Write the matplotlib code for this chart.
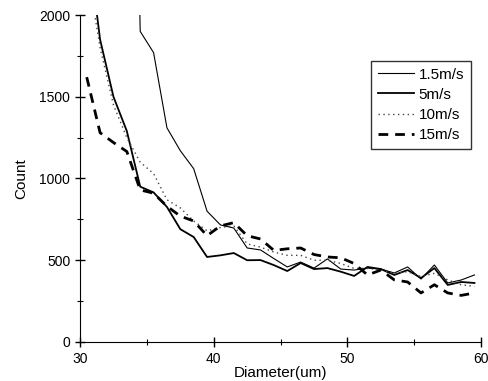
import numpy as np
import matplotlib
matplotlib.use("Agg")
import matplotlib.pyplot as plt
from matplotlib.ticker import MultipleLocator

plt.rcParams['font.family'] = ['Liberation Sans', 'DejaVu Sans']

# diameter bin centres (um)
diam = np.arange(30.5, 60.0, 1.0)

# counts
v15 = [4500, 4000, 3500, 6000, 1900, 1770, 1310, 1170, 1060, 800,
       716, 697, 575, 563, 510, 459, 489, 452, 508, 446,
       440, 452, 446, 422, 459, 385, 471, 361, 379, 410]
v5 = [2500, 1850, 1500, 1290, 950, 915, 826, 690, 642, 520,
      530, 544, 500, 501, 470, 434, 483, 446, 452, 430,
      404, 459, 446, 410, 440, 391, 452, 349, 367, 361]
v10 = [2300, 1800, 1450, 1250, 1100, 1030, 870, 820, 740, 680,
       700, 710, 600, 580, 550, 530, 530, 500, 500, 480,
       450, 450, 440, 420, 430, 400, 420, 380, 350, 340]
v15b = [1620, 1280, 1220, 1165, 930, 910, 830, 770, 740, 650,
        710, 730, 650, 630, 560, 570, 575, 535, 520, 515,
        480, 410, 440, 380, 367, 300, 350, 300, 285, 300]

labels = ["1.5m/s", "5m/s", "10m/s", "15m/s"]

fig = plt.figure(figsize=(4.88, 3.81), dpi=100)
ax = fig.add_axes([0.164, 0.1024, 0.822, 0.8582])

ax.plot(diam, v15, color="black", lw=0.8, label=labels[0])
ax.plot(diam, v5, color="black", lw=1.3, label=labels[1])
ax.plot(diam, v10, color="#444444", lw=1.0, ls=(0, (1, 2.5)), label=labels[2])
ax.plot(diam, v15b, color="black", lw=2.0, ls=(0, (3.5, 2.5)), label=labels[3])

ax.set_xlim(30, 60)
ax.set_ylim(0, 2000)
ax.xaxis.set_major_locator(MultipleLocator(10))
ax.xaxis.set_minor_locator(MultipleLocator(5))
ax.yaxis.set_major_locator(MultipleLocator(500))
ax.yaxis.set_minor_locator(MultipleLocator(250))
ax.spines['top'].set_visible(False)
ax.spines['right'].set_visible(False)
ax.tick_params(which="major", direction="inout", length=7, width=1, labelsize=10)
ax.tick_params(which="minor", direction="inout", length=4, width=0.8)
ax.set_xlabel("Diameter(um)", fontsize=11, labelpad=0)
ax.set_ylabel("Count", fontsize=11, labelpad=8)

leg = ax.legend(loc="upper right", bbox_to_anchor=(0.975, 0.86), fontsize=11,
                frameon=True, fancybox=False, edgecolor="black",
                handlelength=2.4, handletextpad=0.3, borderpad=0.45,
                labelspacing=0.4, borderaxespad=0)
leg.get_frame().set_linewidth(1.0)

fig.savefig("out.png", dpi=100)
